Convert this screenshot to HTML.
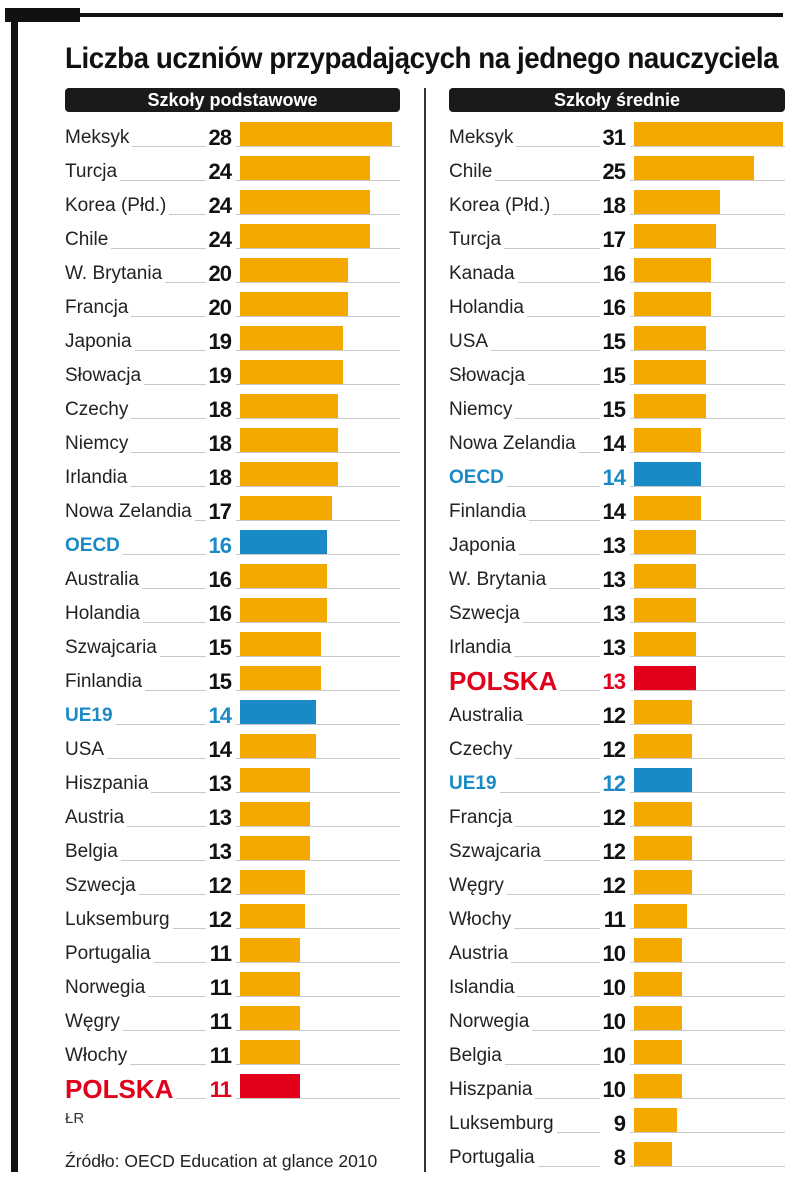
<!DOCTYPE html>
<html><head><meta charset="utf-8"><style>
body{margin:0;background:#fff;}
#root{position:relative;width:805px;height:1201px;overflow:hidden;font-family:"Liberation Sans",sans-serif;}
.abs{position:absolute;}
.lbl{position:absolute;font-size:19px;color:#222;white-space:nowrap;}
.num{position:absolute;font-size:22px;font-weight:bold;color:#111;text-align:right;width:50px;letter-spacing:-1px;}
.ln{position:absolute;height:1px;background:#c8c8c8;}
.bar{position:absolute;height:24px;}
.hdr{position:absolute;height:24px;background:#1a1a1a;border-radius:4px;color:#fff;font-weight:bold;font-size:18px;text-align:center;line-height:24px;}
</style></head><body>
<div id="root">
  <div class="abs" style="left:5px;top:8px;width:75px;height:14px;background:#111"></div>
  <div class="abs" style="left:80px;top:13px;width:703px;height:4px;background:#111"></div>
  <div class="abs" style="left:11px;top:8px;width:7px;height:1164px;background:#111"></div>
  <div class="abs" style="left:424px;top:88px;width:2px;height:1084px;background:#333"></div>
  <div class="abs" style="left:65px;top:42px;font-size:30px;font-weight:bold;color:#111;white-space:nowrap;transform-origin:0 0;transform:scaleX(0.925);letter-spacing:-0.5px">Liczba uczniów przypadających na jednego nauczyciela</div>
  <div class="hdr" style="left:65px;top:88px;width:335px">Szkoły podstawowe</div>
  <div class="hdr" style="left:449px;top:88px;width:336px">Szkoły średnie</div>
  <div class="abs" style="left:65px;top:1110px;font-size:15px;color:#333">ŁR</div>
  <div class="abs" style="left:65px;top:1151px;font-size:17.5px;color:#222">Źródło: OECD Education at glance 2010</div>
</div>
<script>
const leftCats=["Meksyk","Turcja","Korea (Płd.)","Chile","W. Brytania","Francja","Japonia","Słowacja","Czechy","Niemcy","Irlandia","Nowa Zelandia","OECD","Australia","Holandia","Szwajcaria","Finlandia","UE19","USA","Hiszpania","Austria","Belgia","Szwecja","Luksemburg","Portugalia","Norwegia","Węgry","Włochy","POLSKA"];
const leftVals=[28,24,24,24,20,20,19,19,18,18,18,17,16,16,16,15,15,14,14,13,13,13,12,12,11,11,11,11,11];
const rightCats=["Meksyk","Chile","Korea (Płd.)","Turcja","Kanada","Holandia","USA","Słowacja","Niemcy","Nowa Zelandia","OECD","Finlandia","Japonia","W. Brytania","Szwecja","Irlandia","POLSKA","Australia","Czechy","UE19","Francja","Szwajcaria","Węgry","Włochy","Austria","Islandia","Norwegia","Belgia","Hiszpania","Luksemburg","Portugalia"];
const rightVals=[31,25,18,17,16,16,15,15,15,14,14,14,13,13,13,13,13,12,12,12,12,12,12,11,10,10,10,10,10,9,8];
const root=document.getElementById('root');
const ctx=document.createElement('canvas').getContext('2d');
function drawCol(cats,vals,o){
  const xScale=v=>v*o.k;
  const yScale=i=>o.y0+i*34;
  cats.forEach((c,i)=>{
    const cy=yScale(i);
    const special=c==="OECD"||c==="UE19"?"blue":(c==="POLSKA"?"red":null);
    const color=special==="blue"?"#1a8ac6":special==="red"?"#e2001a":"#222";
    const lbl=document.createElement('div');
    lbl.className='lbl';
    
    
    lbl.textContent=c;
    let fs=19,fw='normal';
    if(special==="blue"){fs=19;fw='bold';}
    if(special==="red"){fs=26;fw='bold';}
    lbl.style.cssText+=`left:${o.lx}px;top:${cy-fs*0.6}px;font-size:${fs}px;font-weight:${fw};color:${color};`;
    root.appendChild(lbl);
    ctx.font=`${fw} ${fs}px "Liberation Sans"`;
    const tw=ctx.measureText(c).width;
    const lineY=cy+8;
    const l1=document.createElement('div');
    l1.className='ln';
    
    
    l1.style.cssText+=`left:${o.lx+tw+3}px;top:${lineY}px;width:${Math.max(0,o.nx-25-(o.lx+tw+3))}px;`;
    root.appendChild(l1);
    const n=document.createElement('div');
    n.className='num';
    
    
    n.textContent=vals[i];
    n.style.cssText+=`left:${o.nx-50}px;top:${cy-13}px;color:${special?color:'#111'};`;
    root.appendChild(n);
    const l2=document.createElement('div');
    l2.className='ln';
    
    
    l2.style.cssText+=`left:${o.bx-4}px;top:${lineY}px;width:${o.end-o.bx+4}px;`;
    root.appendChild(l2);
    const b=document.createElement('div');
    b.className='bar';
    
    
    b.style.cssText+=`left:${o.bx}px;top:${cy-16}px;width:${xScale(vals[i])}px;background:${special==="blue"?"#1a8ac6":special==="red"?"#e2001a":"#f5a800"};`;
    root.appendChild(b);
  });
}
drawCol(leftCats,leftVals,{k:5.42,y0:138,lx:65,nx:231,bx:240,end:400});
drawCol(rightCats,rightVals,{k:4.8,y0:138,lx:449,nx:625,bx:634,end:785});
</script>
</body></html>
